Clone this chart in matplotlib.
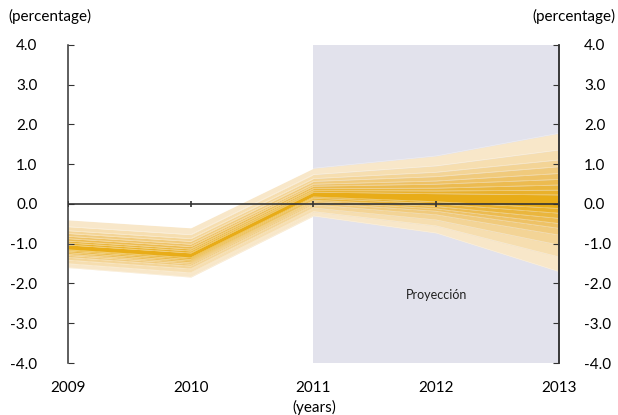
import matplotlib
matplotlib.use("Agg")
import matplotlib.pyplot as plt
import numpy as np

plt.rcParams['font.family'] = ['Lato', 'DejaVu Sans']

years = [2009, 2010, 2011, 2012, 2013]
proj_start, proj_end = 2011, 2013

# fan edges, upper side from outermost to innermost
upper = [
    [-0.40, -0.60, 0.90, 1.21, 1.78],
    [-0.57, -0.77, 0.74, 0.96, 1.36],
    [-0.67, -0.87, 0.64, 0.80, 1.11],
    [-0.74, -0.94, 0.57, 0.69, 0.94],
    [-0.81, -1.01, 0.50, 0.58, 0.77],
    [-0.87, -1.07, 0.45, 0.50, 0.62],
    [-0.93, -1.13, 0.39, 0.40, 0.48],
    [-0.98, -1.18, 0.34, 0.33, 0.35],
    [-1.03, -1.23, 0.30, 0.26, 0.23],
]
# lower side, from outermost to innermost
lower = [
    [-1.60, -1.84, -0.30, -0.73, -1.70],
    [-1.50, -1.73, -0.19, -0.55, -1.33],
    [-1.41, -1.63, -0.10, -0.40, -1.03],
    [-1.34, -1.56, -0.02, -0.27, -0.78],
    [-1.29, -1.51, 0.03, -0.18, -0.61],
    [-1.26, -1.47, 0.07, -0.12, -0.49],
    [-1.22, -1.43, 0.10, -0.06, -0.36],
    [-1.18, -1.39, 0.15, 0.01, -0.23],
    [-1.15, -1.35, 0.18, 0.06, -0.11],
]

band_colors = ['#F8E7C9', '#F6DEB0', '#F3D496', '#F0CA7C', '#EEC266',
               '#ECBB50', '#EAB63E', '#E9B12C', '#E8AC18']

yticks = [-4, -3, -2, -1, 0, 1, 2, 3, 4]
ytick_labels = ['-4.0', '-3.0', '-2.0', '-1.0', '0.0', '1.0', '2.0', '3.0', '4.0']

fig = plt.figure(figsize=(6.18, 4.15), dpi=100)
ax = fig.add_axes([0.110, 0.1253, 0.7945, 0.7663])

ax.axvspan(proj_start, proj_end, color='#E2E2EC', lw=0, zorder=0)

n = len(upper)
for i in range(n - 1):
    ax.fill_between(years, upper[i], upper[i + 1], color=band_colors[i], lw=0, zorder=1)
    ax.fill_between(years, lower[i + 1], lower[i], color=band_colors[i], lw=0, zorder=1)
ax.fill_between(years, lower[-1], upper[-1], color=band_colors[-1], lw=0, zorder=1)
# faint light seams between bands
for row in upper + lower:
    ax.plot(years, row, color='white', lw=0.4, alpha=0.45, zorder=2)

ax.axhline(0, color='#333333', lw=1.2, zorder=3)
ax.plot(years, np.zeros(len(years)), ls='none', marker='|', ms=5, mew=1.2,
        color='#333333', zorder=3)

ax.text(2012, -2.29, 'Proyección', ha='center', va='center', fontsize=9, color='#222222')

ax.set_xlim(2009, 2013)
ax.set_ylim(-4, 4)
ax.set_xticks(years)
ax.set_xticklabels([str(y) for y in years], fontsize=11)
ax.tick_params(axis='x', length=0, pad=13)
ax.set_yticks(yticks)
ax.set_yticklabels(ytick_labels, fontsize=11)
ax.tick_params(axis='y', direction='in', length=4, pad=22, color='#333333')

for s in ['top', 'bottom']:
    ax.spines[s].set_visible(False)
for s in ['left', 'right']:
    ax.spines[s].set_color('#333333')
    ax.spines[s].set_linewidth(1.1)

ax2 = ax.twinx()
ax2.set_ylim(-4, 4)
ax2.set_yticks(yticks)
ax2.set_yticklabels(ytick_labels, fontsize=11)
ax2.tick_params(axis='y', direction='in', length=4, pad=18, color='#333333')
for s in ['top', 'bottom', 'left']:
    ax2.spines[s].set_visible(False)
ax2.spines['right'].set_color('#333333')
ax2.spines['right'].set_linewidth(1.1)

fig.text(0.013, 0.96, '(percentage)', fontsize=11, ha='left', va='center')
fig.text(0.996, 0.96, '(percentage)', fontsize=11, ha='right', va='center')
fig.text(314 / 618, 1 - 407 / 415, '(years)', fontsize=11, ha='center', va='center')

fig.savefig('out.png', dpi=100)
